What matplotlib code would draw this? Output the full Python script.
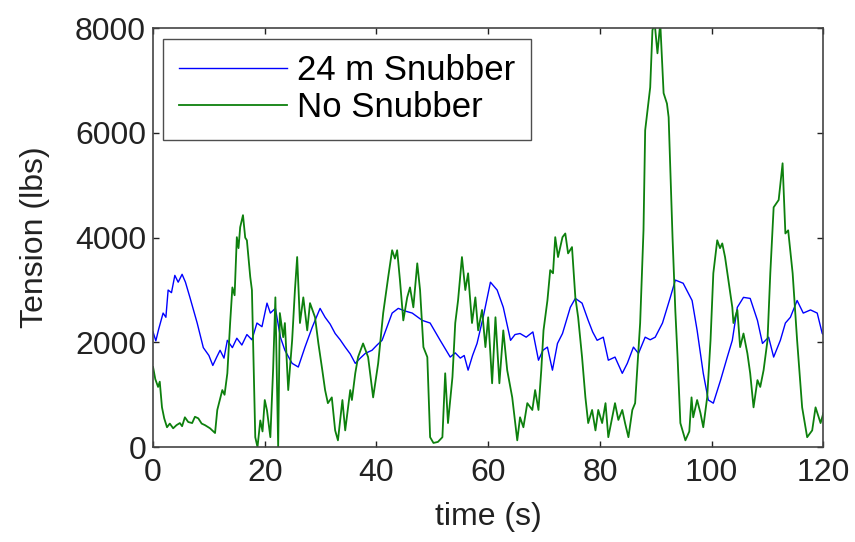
import matplotlib.pyplot as plt

plt.rcParams["font.family"] = ["Liberation Sans", "DejaVu Sans"]

# 24 m Snubber 数据 (时间 s, 张力 lbs)
t_snub = [0, 0.5, 1.0, 1.8, 2.3, 2.7, 3.3, 3.9, 4.5, 5.2, 5.8, 6.6, 7.9, 9.0, 10.0,
          10.7, 11.4, 12.0, 12.7, 13.3, 14.2, 15.0, 15.9, 16.8, 17.7, 18.6, 19.5,
          20.4, 21.0, 21.9, 22.8, 23.6, 24.9, 26.0, 27.2, 28.5, 29.9, 30.8, 31.7,
          32.6, 33.5, 34.4, 35.3, 36.2, 37.1, 38.0, 39.2, 40.1, 41.0, 41.9, 42.8,
          43.9, 45.1, 46.4, 48.2, 49.6, 51.4, 53.2, 54.1, 55.0, 55.7, 56.4, 57.2,
          58.0, 59.1, 60.4, 61.6, 62.7, 64.0, 64.8, 65.7, 66.8, 68.0, 69.0, 69.8,
          70.6, 71.5, 72.4, 73.3, 74.7, 75.6, 76.8, 77.9, 78.7, 79.5, 80.6, 81.5,
          82.7, 84.0, 84.9, 86.0, 86.9, 88.1, 89.0, 89.9, 91.2, 92.6, 93.5, 94.9,
          96.5, 97.4, 98.5, 99.4, 100.3, 101.6, 102.8, 103.7, 104.6, 105.7, 106.9,
          108.2, 109.1, 110.2, 111.1, 112.3, 113.2, 114.1, 115.3, 116.4, 117.7,
          118.9, 119.8, 120]
v_snub = [2200, 2030, 2250, 2560, 2480, 3000, 2950, 3280, 3150, 3300, 3150, 2860,
          2370, 1900, 1750, 1560, 1720, 1850, 1700, 2040, 1900, 2080, 1950, 2150,
          2050, 2370, 2300, 2750, 2560, 2650, 2100, 1850, 1600, 1530, 1910, 2290,
          2650, 2480, 2350, 2170, 2050, 1910, 1780, 1600, 1700, 1790, 1850, 1950,
          2040, 2300, 2560, 2650, 2600, 2560, 2420, 2370, 2040, 1720, 1800, 1700,
          1750, 1470, 1750, 1980, 2480, 3150, 3000, 2670, 2040, 2150, 2170, 2100,
          2200, 1660, 1850, 1910, 1470, 1980, 2170, 2670, 2840, 2750, 2420, 2200,
          2040, 2100, 1660, 1720, 1410, 1600, 1910, 1790, 2100, 2050, 2100, 2370,
          2860, 3190, 3130, 2800, 2230, 1410, 900, 840, 1280, 1720, 2040, 2670,
          2860, 2840, 2420, 1980, 2100, 1720, 2040, 2370, 2480, 2800, 2560, 2620,
          2560, 2170, 2150]

# No Snubber 数据
t_none = [0, 0.4, 0.9, 1.2, 1.6, 2.0, 2.5, 3.0, 3.6, 4.2, 4.8, 5.2, 5.7, 6.3, 7.0,
          7.5, 8.1, 8.7, 9.3, 10.2, 11.1, 11.5, 12.4, 12.8, 13.3, 13.8, 14.2, 14.6,
          15.0, 15.3, 15.6, 16.1, 16.5, 16.8, 17.4, 17.7, 18.3, 18.7, 19.2, 19.6,
          20.0, 20.4, 21.0, 21.5, 21.9, 22.4, 22.7, 23.3, 23.6, 24.2, 24.9, 25.4,
          25.8, 26.3, 26.9, 27.6, 28.1, 29.0, 29.6, 30.3, 30.8, 31.3, 32.0, 32.6,
          33.1, 33.9, 34.4, 35.3, 35.6, 36.2, 36.7, 37.6, 38.5, 39.4, 40.3, 41.2,
          42.1, 42.8, 43.3, 43.7, 44.2, 44.8, 45.5, 46.0, 46.6, 47.3, 47.8, 48.4,
          49.1, 49.6, 50.2, 51.0, 51.8, 52.3, 52.8, 53.6, 54.1, 54.6, 55.3, 55.9,
          56.4, 57.1, 57.7, 58.2, 58.9, 59.5, 60.0, 60.7, 61.3, 62.0, 62.7, 63.4,
          64.3, 65.2, 65.7, 66.3, 67.0, 67.9, 68.4, 69.0, 69.5, 69.9, 70.6, 71.1,
          71.6, 72.0, 72.5, 73.3, 73.8, 74.3, 75.0, 75.6, 76.1, 76.8, 77.4, 77.9,
          78.6, 79.2, 79.7, 80.4, 81.0, 81.5, 82.2, 82.7, 83.3, 84.0, 84.5, 85.1,
          85.8, 86.3, 87.2, 87.8, 88.1, 89.0, 89.4, 89.8, 90.3, 90.8, 91.4, 92.0,
          92.3, 92.6, 93.0, 93.5, 93.9, 94.4, 95.3, 96.0, 96.4, 96.7, 97.4, 98.0,
          98.5, 99.2, 99.8, 100.3, 101.0, 101.5, 101.9, 102.4, 103.0, 103.7, 103.9,
          104.6, 105.1, 105.7, 106.4, 106.9, 107.5, 108.2, 108.7, 109.3, 110.0,
          110.5, 111.1, 112.0, 112.7, 113.2, 113.7, 114.5, 115.3, 116.2, 117.1,
          118.0, 118.6, 119.5, 120]
v_none = [1530, 1300, 1150, 1250, 760, 550, 380, 450, 360, 420, 460, 400, 570, 480,
          460, 580, 550, 450, 420, 360, 270, 710, 1090, 1000, 1410, 2370, 3050, 2900,
          4010, 3800, 4200, 4430, 4000, 3950, 3250, 3000, 190, 0, 510, 300,
          900, 700, 190, 1500, 2860, 0, 2560, 2100, 2370, 1090, 2040, 3000,
          3630, 2370, 2860, 2230, 2750, 2480, 1980, 1470, 1090, 840, 950, 320,
          130, 900, 320, 1090, 900, 1410, 1720, 1980, 1720, 950, 1600, 2560,
          3250, 3760, 3600, 3760, 3190, 2420, 2860, 3050, 2670, 3510, 3000, 1910,
          1720, 190, 80, 100, 190, 1410, 460, 1340, 2370, 2800, 3630, 3000,
          3320, 2370, 2860, 2230, 2620, 1910, 2480, 1220, 2480, 1220, 2230, 1470,
          950, 130, 570, 380, 840, 710, 1090, 710, 1470, 2230, 2800, 3380,
          3320, 4010, 3630, 4010, 4080, 3700, 3820, 2860, 2480, 1720, 950, 460,
          710, 320, 710, 460, 840, 190, 570, 840, 520, 710, 460, 190,
          710, 840, 2370, 4140, 6050, 6870, 7960, 8100, 7520, 8100, 6760, 6560,
          6300, 5290, 4000, 2600, 1720, 460, 130, 300, 950, 570, 900, 650,
          380, 950, 2040, 3320, 3950, 3800, 3890, 3630, 3190, 2670, 2370,
          2620, 1910, 2170, 1790, 1410, 760, 1280, 1150, 1470, 2040,
          3320, 4580, 4720, 5420, 4080, 4140, 3320, 2040, 760, 190,
          320, 760, 460, 650]

fig = plt.figure(figsize=(8.55, 5.42), dpi=100)
ax = fig.add_axes([0.179, 0.175, 0.784, 0.773])

# 画两条曲线
ax.plot(t_snub, v_snub, color=(0, 0, 1), linewidth=1.0, label="24 m Snubber")
ax.plot(t_none, v_none, color=(0.05, 0.5, 0.05), linewidth=1.3, label="No Snubber")

ax.set_xlim(0, 120)
ax.set_ylim(0, 8000)
ax.set_xticks([0, 20, 40, 60, 80, 100, 120])
ax.set_yticks([0, 2000, 4000, 6000, 8000])
ax.tick_params(direction="in", length=4, width=1, top=True, right=True,
               labelsize=23, colors="#222222")
ax.tick_params(axis="x", pad=8)
ax.tick_params(axis="y", pad=5)
for s in ax.spines.values():
    s.set_color("#444444")
    s.set_linewidth(1.2)

ax.set_xlabel("time (s)", fontsize=23, labelpad=10, color="#222222")
ax.set_ylabel("Tension (lbs)", fontsize=23, labelpad=18, color="#222222")

leg = ax.legend(loc="upper left", fontsize=25, frameon=True, fancybox=False,
                handlelength=3.1, handletextpad=0.3, labelspacing=0.12,
                borderpad=0.45, borderaxespad=0.3)
leg.get_frame().set_edgecolor("#222222")
leg.get_frame().set_linewidth(1.0)

plt.savefig("out.png", dpi=100)
